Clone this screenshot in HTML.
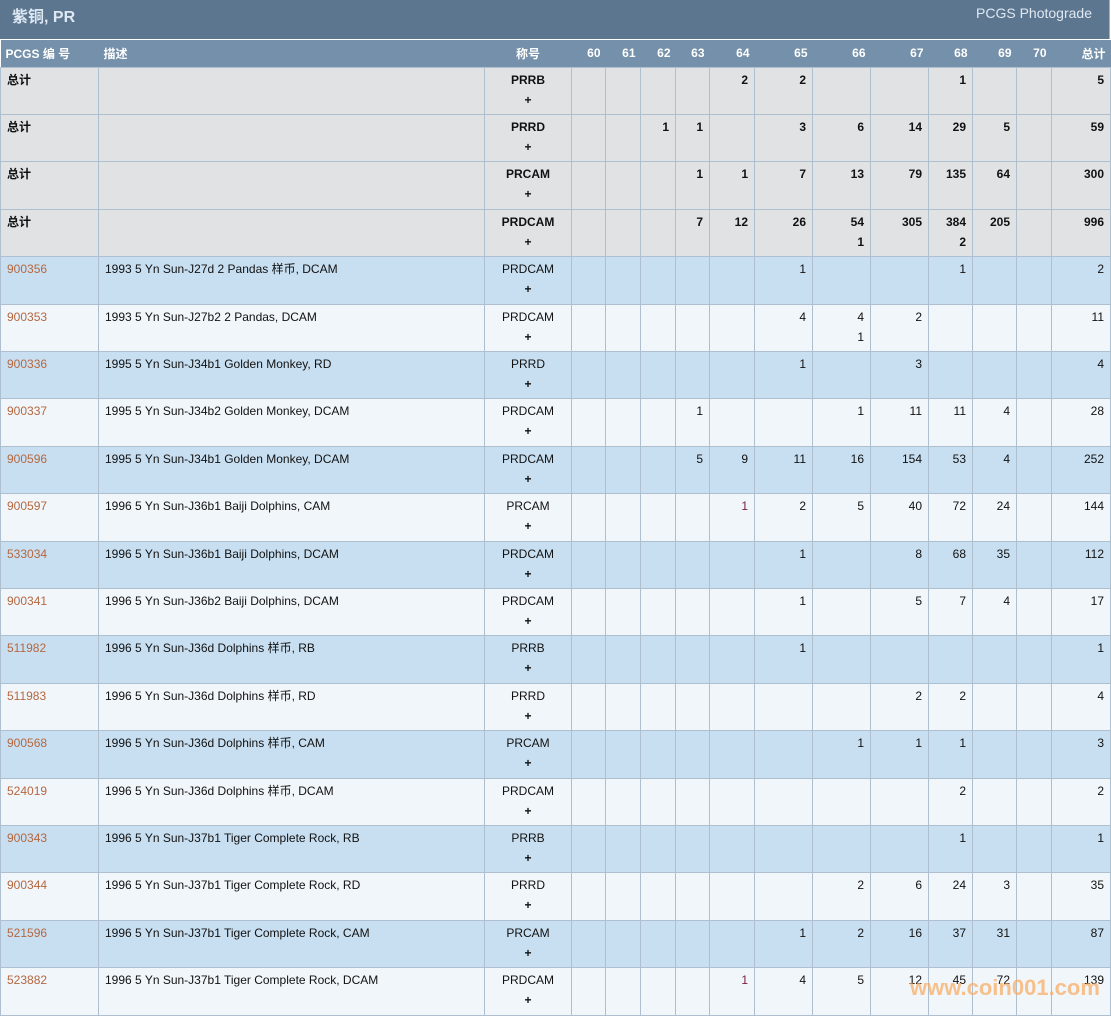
<!DOCTYPE html>
<html><head><meta charset="utf-8"><style>
body{margin:0;width:1111px;height:1015px;overflow:hidden;background:#fff;font-family:"Liberation Sans","Noto Sans CJK SC",sans-serif;font-size:12px;color:#111;position:relative}
.top{position:absolute;left:0;top:0;width:1109px;height:39px;background:#5c7690;border-right:1px solid #9fb3c6}
.top .t{position:absolute;left:12px;top:3px;font-size:16px;font-weight:bold;color:#dde8f3}
.top .r{position:absolute;right:17px;top:5px;font-size:14px;color:#dfe8f1}
table{position:absolute;left:0;top:40px;border-collapse:collapse;table-layout:fixed;width:1110px}
th{background:#7490aa;color:#fff;font-weight:bold;height:27px;padding:0 5px;text-align:right;font-size:12px;box-sizing:border-box}
th.l{text-align:left}
td{border:1px solid #aebfd0;vertical-align:top;padding:2px 6px 0 6px;line-height:20px;text-align:right;height:47.42px;box-sizing:border-box;overflow:hidden;white-space:nowrap}
td.l{text-align:left}
td.c{text-align:center}
tr.s td{background:#e1e2e3;font-weight:bold}
tr.b td{background:#c8dff1}
tr.w td{background:#f1f6fb}
td a{color:#b5673f}
.p{font-weight:bold}
.wm{position:absolute;left:910px;top:975px;font-size:22px;font-weight:bold;color:rgba(250,170,90,.7)}
</style></head><body>
<div class="top"><span class="t">紫铜, PR</span><span class="r">PCGS Photograde</span></div>
<table>
<colgroup><col style="width:98px"><col style="width:386px"><col style="width:87px"><col style="width:34px"><col style="width:35px"><col style="width:35px"><col style="width:34px"><col style="width:45px"><col style="width:58px"><col style="width:58px"><col style="width:58px"><col style="width:44px"><col style="width:44px"><col style="width:35px"><col style="width:59px"></colgroup>
<tr><th class="l">PCGS 编 号</th><th class="l">描述</th><th style="text-align:center">称号</th><th>60</th><th>61</th><th>62</th><th>63</th><th>64</th><th>65</th><th>66</th><th>67</th><th>68</th><th>69</th><th>70</th><th>总计</th></tr>
<tr class="s"><td class="l">总计</td><td></td><td class="c">PRRB<br>+</td><td></td><td></td><td></td><td></td><td>2</td><td>2</td><td></td><td></td><td>1</td><td></td><td></td><td>5</td></tr>
<tr class="s"><td class="l">总计</td><td></td><td class="c">PRRD<br>+</td><td></td><td></td><td>1</td><td>1</td><td></td><td>3</td><td>6</td><td>14</td><td>29</td><td>5</td><td></td><td>59</td></tr>
<tr class="s"><td class="l">总计</td><td></td><td class="c">PRCAM<br>+</td><td></td><td></td><td></td><td>1</td><td>1</td><td>7</td><td>13</td><td>79</td><td>135</td><td>64</td><td></td><td>300</td></tr>
<tr class="s"><td class="l">总计</td><td></td><td class="c">PRDCAM<br>+</td><td></td><td></td><td></td><td>7</td><td>12</td><td>26</td><td>54<br>1</td><td>305</td><td>384<br>2</td><td>205</td><td></td><td>996</td></tr>
<tr class="b"><td class="l"><a>900356</a></td><td class="l">1993 5 Yn Sun-J27d 2 Pandas 样币, DCAM</td><td class="c">PRDCAM<br><span class="p">+</span></td><td></td><td></td><td></td><td></td><td></td><td>1</td><td></td><td></td><td>1</td><td></td><td></td><td>2</td></tr>
<tr class="w"><td class="l"><a>900353</a></td><td class="l">1993 5 Yn Sun-J27b2 2 Pandas, DCAM</td><td class="c">PRDCAM<br><span class="p">+</span></td><td></td><td></td><td></td><td></td><td></td><td>4</td><td>4<br>1</td><td>2</td><td></td><td></td><td></td><td>11</td></tr>
<tr class="b"><td class="l"><a>900336</a></td><td class="l">1995 5 Yn Sun-J34b1 Golden Monkey, RD</td><td class="c">PRRD<br><span class="p">+</span></td><td></td><td></td><td></td><td></td><td></td><td>1</td><td></td><td>3</td><td></td><td></td><td></td><td>4</td></tr>
<tr class="w"><td class="l"><a>900337</a></td><td class="l">1995 5 Yn Sun-J34b2 Golden Monkey, DCAM</td><td class="c">PRDCAM<br><span class="p">+</span></td><td></td><td></td><td></td><td>1</td><td></td><td></td><td>1</td><td>11</td><td>11</td><td>4</td><td></td><td>28</td></tr>
<tr class="b"><td class="l"><a>900596</a></td><td class="l">1995 5 Yn Sun-J34b1 Golden Monkey, DCAM</td><td class="c">PRDCAM<br><span class="p">+</span></td><td></td><td></td><td></td><td>5</td><td>9</td><td>11</td><td>16</td><td>154</td><td>53</td><td>4</td><td></td><td>252</td></tr>
<tr class="w"><td class="l"><a>900597</a></td><td class="l">1996 5 Yn Sun-J36b1 Baiji Dolphins, CAM</td><td class="c">PRCAM<br><span class="p">+</span></td><td></td><td></td><td></td><td></td><td style="color:#7a2040">1</td><td>2</td><td>5</td><td>40</td><td>72</td><td>24</td><td></td><td>144</td></tr>
<tr class="b"><td class="l"><a>533034</a></td><td class="l">1996 5 Yn Sun-J36b1 Baiji Dolphins, DCAM</td><td class="c">PRDCAM<br><span class="p">+</span></td><td></td><td></td><td></td><td></td><td></td><td>1</td><td></td><td>8</td><td>68</td><td>35</td><td></td><td>112</td></tr>
<tr class="w"><td class="l"><a>900341</a></td><td class="l">1996 5 Yn Sun-J36b2 Baiji Dolphins, DCAM</td><td class="c">PRDCAM<br><span class="p">+</span></td><td></td><td></td><td></td><td></td><td></td><td>1</td><td></td><td>5</td><td>7</td><td>4</td><td></td><td>17</td></tr>
<tr class="b"><td class="l"><a>511982</a></td><td class="l">1996 5 Yn Sun-J36d Dolphins 样币, RB</td><td class="c">PRRB<br><span class="p">+</span></td><td></td><td></td><td></td><td></td><td></td><td>1</td><td></td><td></td><td></td><td></td><td></td><td>1</td></tr>
<tr class="w"><td class="l"><a>511983</a></td><td class="l">1996 5 Yn Sun-J36d Dolphins 样币, RD</td><td class="c">PRRD<br><span class="p">+</span></td><td></td><td></td><td></td><td></td><td></td><td></td><td></td><td>2</td><td>2</td><td></td><td></td><td>4</td></tr>
<tr class="b"><td class="l"><a>900568</a></td><td class="l">1996 5 Yn Sun-J36d Dolphins 样币, CAM</td><td class="c">PRCAM<br><span class="p">+</span></td><td></td><td></td><td></td><td></td><td></td><td></td><td>1</td><td>1</td><td>1</td><td></td><td></td><td>3</td></tr>
<tr class="w"><td class="l"><a>524019</a></td><td class="l">1996 5 Yn Sun-J36d Dolphins 样币, DCAM</td><td class="c">PRDCAM<br><span class="p">+</span></td><td></td><td></td><td></td><td></td><td></td><td></td><td></td><td></td><td>2</td><td></td><td></td><td>2</td></tr>
<tr class="b"><td class="l"><a>900343</a></td><td class="l">1996 5 Yn Sun-J37b1 Tiger Complete Rock, RB</td><td class="c">PRRB<br><span class="p">+</span></td><td></td><td></td><td></td><td></td><td></td><td></td><td></td><td></td><td>1</td><td></td><td></td><td>1</td></tr>
<tr class="w"><td class="l"><a>900344</a></td><td class="l">1996 5 Yn Sun-J37b1 Tiger Complete Rock, RD</td><td class="c">PRRD<br><span class="p">+</span></td><td></td><td></td><td></td><td></td><td></td><td></td><td>2</td><td>6</td><td>24</td><td>3</td><td></td><td>35</td></tr>
<tr class="b"><td class="l"><a>521596</a></td><td class="l">1996 5 Yn Sun-J37b1 Tiger Complete Rock, CAM</td><td class="c">PRCAM<br><span class="p">+</span></td><td></td><td></td><td></td><td></td><td></td><td>1</td><td>2</td><td>16</td><td>37</td><td>31</td><td></td><td>87</td></tr>
<tr class="w"><td class="l"><a>523882</a></td><td class="l">1996 5 Yn Sun-J37b1 Tiger Complete Rock, DCAM</td><td class="c">PRDCAM<br><span class="p">+</span></td><td></td><td></td><td></td><td></td><td style="color:#7a2040">1</td><td>4</td><td>5</td><td>12</td><td>45</td><td>72</td><td></td><td>139</td></tr>
</table>
<div class="wm">www.coin001.com</div>
</body></html>
